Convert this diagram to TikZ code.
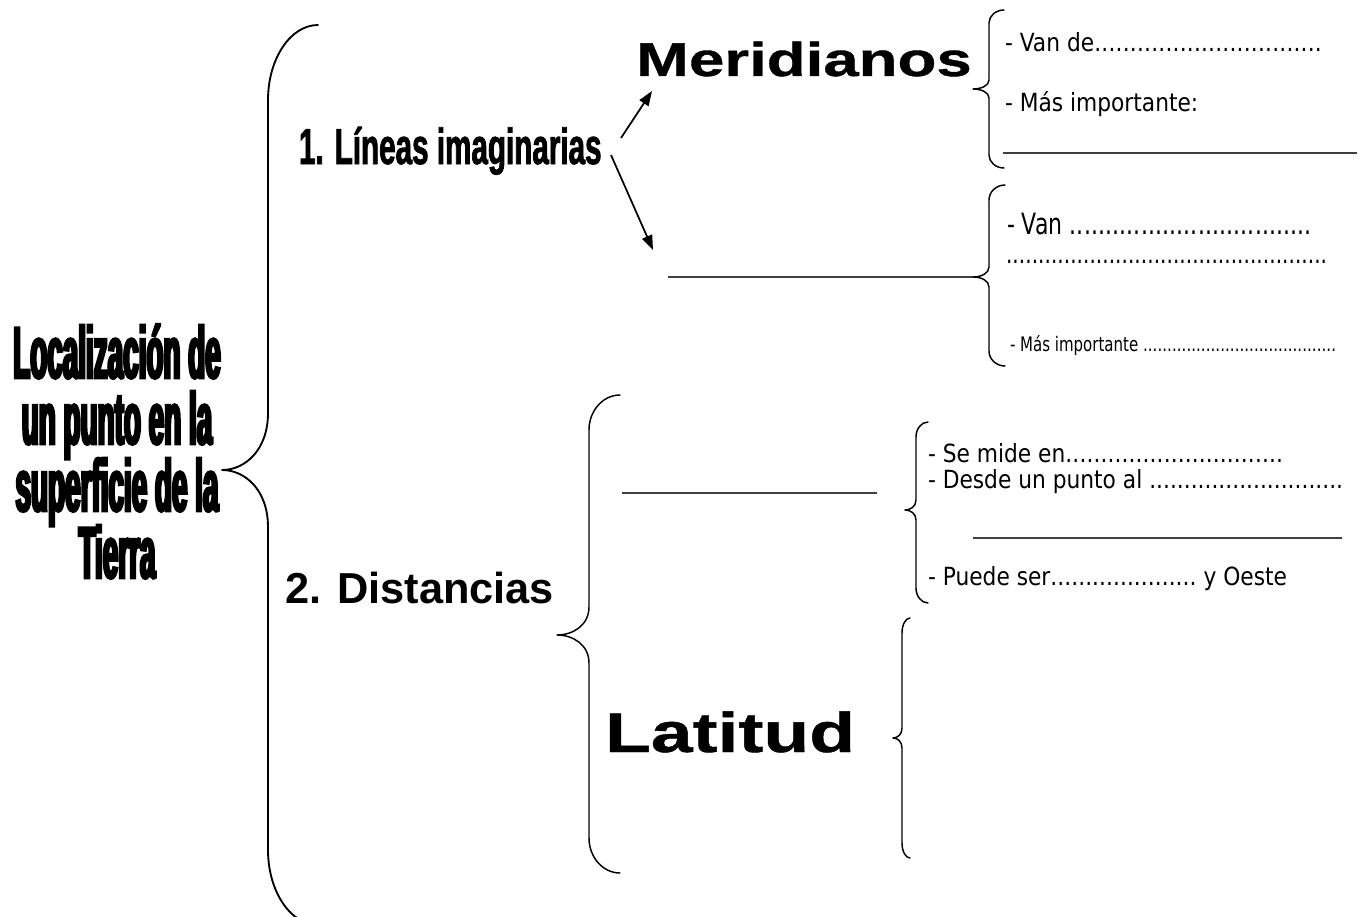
\documentclass[tikz,border=0pt]{standalone}
\usepackage{fontspec}
\usetikzlibrary{arrows.meta}
\setmainfont{DejaVu Sans}
\newfontfamily\fImpact{Liberation Sans}[FakeStretch=0.38,FakeBold=3.5]
\newfontfamily\fNarrow{Liberation Sans}[FakeStretch=0.585,FakeBold=1.5]
\newfontfamily\fWide{Liberation Sans}[FakeStretch=1.34,FakeBold=0.8]
\newfontfamily\fArial{Liberation Sans}
\newfontfamily\fTah{DejaVu Sans}[FakeStretch=0.87]
\newfontfamily\fTahN{DejaVu Sans}[FakeStretch=0.75]
\newdimen\pxu \pxu=0.75pt
\newcommand\dotline[2]{\makebox[#1\pxu][l]{#2\xleaders\hbox{.}\hfill}}
\newcommand\dotmid[3]{\makebox[#1\pxu][l]{#2\xleaders\hbox{.}\hfill#3}}
% brace: xe, ytop, xspine, xtip, ytip, ybottom, rEnd, rMid
\newcommand\mybrace[9][]{%
  \draw[bracestyle,#1] (#2,#3) .. controls ({#4+0.45*(#2-#4)},#3) and (#4,{#3+0.45*#8}) .. (#4,{#3+#8})
   -- (#4,{#6-#9}) .. controls (#4,{#6-0.35*#9}) and ({#4-0.5*(#4-#5)},#6) .. (#5,#6)
   .. controls ({#4-0.5*(#4-#5)},#6) and (#4,{#6+0.35*#9}) .. (#4,{#6+#9})
   -- (#4,{#7-#8}) .. controls (#4,{#7-0.45*#8}) and ({#4+0.45*(#2-#4)},#7) .. (#2,#7);}
\begin{document}
\begin{tikzpicture}[x=0.75pt,y=-0.75pt,
  every node/.style={inner sep=0pt,outer sep=0pt,anchor=base west},
  bracestyle/.style={line width=1.1pt,line cap=round,line join=round},
  blank/.style={line width=0.8pt,black!75},
  arr/.style={line width=1.3pt,-{Triangle[length=11pt,width=8pt]}},
  titlef/.style={font=\fImpact\bfseries\fontsize{55pt}{60pt}\selectfont,anchor=base},
  small/.style={font=\fTah\fontsize{18.75pt}{22pt}\selectfont}]
\useasboundingbox (0,0) rectangle (1367,917);

% left title
\node[titlef] (t1) at (117,378) {Localización de};
\node[titlef] (t2) at (117,444) {un punto en la};
\node[titlef] (t3) at (117,511) {superficie de la};
\node[titlef] (t4) at (117,578) {Tierra};

% main brace
\mybrace[line width=1.4pt]{318}{25}{268}{222}{470}{925}{75}{57}

% level 1
\node[font=\fNarrow\bfseries\fontsize{38pt}{44pt}\selectfont] (lineas) at (299,164) {1. Líneas imaginarias};
\node[font=\fWide\bfseries\fontsize{35.6pt}{40pt}\selectfont] (merid) at (636,76) {Meridianos};
\node[font=\fArial\bfseries\fontsize{32.5pt}{38pt}\selectfont] (dist) at (285,603) {2. Distancias};
\node[font=\fWide\bfseries\fontsize{42pt}{48pt}\selectfont] (lat) at (605,752) {Latitud};

% arrows
\coordinate (a1s) at (621,138);
\coordinate (a1e) at (652,91);
\coordinate (a2s) at (611,155);
\coordinate (a2e) at (653,250);
\draw[arr] (a1s) -- (a1e);
\draw[arr] (a2s) -- (a2e);

% meridianos brace and text
\mybrace{1004}{10}{989}{973}{89}{168}{13}{9}
\node[small] (m1) at (1005,52) {\dotline{317}{- Van de}};
\node[small] (m2) at (1005,112) {- Más importante:};
\coordinate (l1a) at (1003,153); \coordinate (l1b) at (1357,153);
\draw[blank] (l1a) -- (l1b);

% second group (paralelos)
\coordinate (l2a) at (668,277); \coordinate (l2b) at (973,277);
\draw[blank] (l2a) -- (l2b);
\mybrace{1005}{185}{989}{973}{277}{366}{15}{10}
\node[font=\fTahN\fontsize{22pt}{24pt}\selectfont] (p1) at (1007,234) {\dotline{305}{- Van }};
\node[font=\fTahN\fontsize{20pt}{22pt}\selectfont] (p2) at (1006,263) {\dotline{321}{}};
\node[font=\fTahN\fontsize{15pt}{18pt}\selectfont] (p3) at (1010,351) {\dotline{326}{- Más importante }};

% distancias brace
\mybrace{620}{395}{589}{557}{635}{873}{35}{28}

% longitud group
\coordinate (l3a) at (622,493); \coordinate (l3b) at (877,493);
\draw[blank] (l3a) -- (l3b);
\mybrace{928}{422}{916}{905}{510}{603}{15}{10}
\node[small] (d1) at (928,462) {\dotline{355}{- Se mide en}};
\node[small] (d2) at (928,488) {\dotline{415}{- Desde un punto al }};
\coordinate (l4a) at (973,538); \coordinate (l4b) at (1342,538);
\draw[blank] (l4a) -- (l4b);
\node[small] (d3) at (928,585) {\dotmid{359}{- Puede ser}{ y Oeste}};

% latitud brace
\mybrace{910}{618}{902}{893}{738}{858}{15}{10}
\end{tikzpicture}
\end{document}
